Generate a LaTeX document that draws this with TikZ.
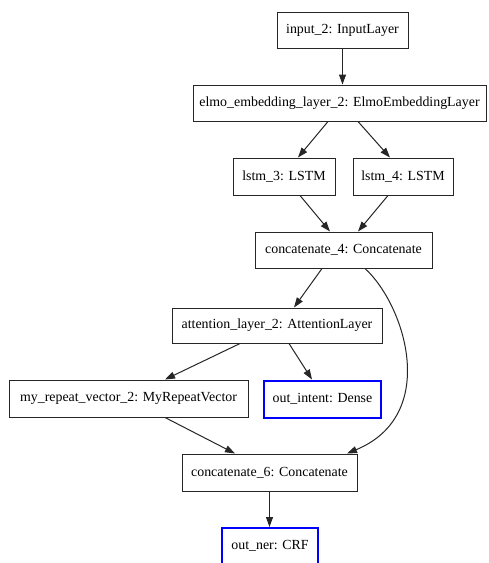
\documentclass[tikz,border=0pt]{standalone}
\usepackage{fontspec}
\setmainfont{Liberation Serif}
\usetikzlibrary{arrows.meta}
\begin{document}
\begin{tikzpicture}[x=1pt,y=-1pt,
  layer/.style={draw=black!85, line width=1pt, fill=white, inner sep=0pt,
    minimum height=36pt, font=\fontsize{13.9}{16}\selectfont},
  outlayer/.style={layer, draw=blue, line width=2pt},
  flow/.style={draw=black!85, line width=1pt, -{Triangle[length=10pt,width=7pt]}}]
\clip (0,0) rectangle (488,563);
\fill[white] (0,0) rectangle (488,563);

% layers
\node[layer, minimum width=131pt] (input) at (342.5,30) {input\_2: InputLayer};
\node[layer, minimum width=293pt] (elmo) at (339.5,103) {elmo\_embedding\_layer\_2: ElmoEmbeddingLayer};
\node[layer, minimum width=102pt, minimum height=37pt] (lstm3) at (284,176.5) {lstm\_3: LSTM};
\node[layer, minimum width=100pt, minimum height=37pt] (lstm4) at (403,176.5) {lstm\_4: LSTM};
\node[layer, minimum width=177pt] (cat4) at (343.5,250) {concatenate\_4: Concatenate};
\node[layer, minimum width=210pt, minimum height=35pt] (att) at (277,325.5) {attention\_layer\_2: AttentionLayer};
\node[layer, minimum width=239pt, minimum height=37pt] (rep) at (128.5,398.5) {my\_repeat\_vector\_2: MyRepeatVector};
\node[outlayer, minimum width=117pt, minimum height=37pt] (intent) at (322.5,399) {out\_intent: Dense};
\node[layer, minimum width=175pt, minimum height=37pt] (cat6) at (269.5,472.5) {concatenate\_6: Concatenate};
\node[outlayer, minimum width=96pt] (ner) at (270,546) {out\_ner: CRF};

% connections
\draw[flow] (input.south) -- (input.south |- elmo.north);
\draw[flow] ([xshift=-11.5pt]elmo.south) -- ([xshift=14pt]lstm3.north);
\draw[flow] ([xshift=18.5pt]elmo.south) -- ([xshift=-13pt]lstm4.north);
\draw[flow] ([xshift=16pt]lstm3.south) -- ([xshift=-13.5pt]cat4.north);
\draw[flow] ([xshift=-15pt]lstm4.south) -- ([xshift=14.5pt]cat4.north);
\draw[flow] ([xshift=-21.5pt]cat4.south) -- ([xshift=17pt]att.north);
\draw[flow] ([xshift=-37pt]att.south) -- ([xshift=36.5pt]rep.north);
\draw[flow] ([xshift=12pt]att.south) -- ([xshift=-10.5pt]intent.north);
\draw[flow] ([xshift=36.5pt]rep.south) -- ([xshift=-34.5pt]cat6.north);
\draw[flow] ([xshift=21.5pt]cat4.south) .. controls (405,305) and (440,415) .. ([xshift=77.5pt]cat6.north);
\draw[flow] (cat6.south) -- (cat6.south |- ner.north);
\end{tikzpicture}
\end{document}
